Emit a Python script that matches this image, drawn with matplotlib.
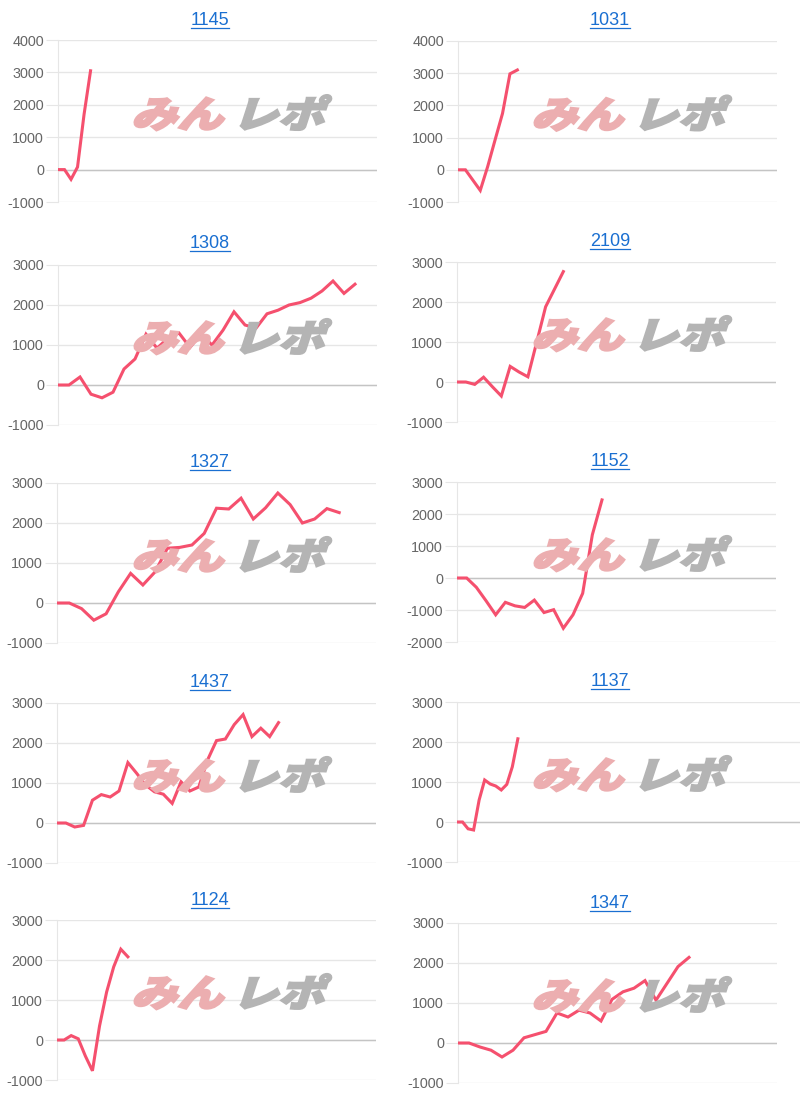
import matplotlib
matplotlib.use('Agg')
import matplotlib.pyplot as plt
from matplotlib.textpath import TextPath
from matplotlib.patches import PathPatch
from matplotlib.font_manager import FontProperties
from matplotlib.lines import Line2D
import matplotlib.transforms as mtransforms

# --- data ---
titles = ['1145', '1031', '1308', '2109', '1327', '1152', '1437', '1137', '1124', '1347']

v1145 = [0, 0, -300, 80, 1700, 3050]
v1031 = [0, 0, -320, -640, 100, 930, 1750, 2980, 3100]
v1308 = [0, 0, 200, -230, -320, -180, 400, 650, 1270, 920, 1170, 1300, 940, 1270,
         1000, 1370, 1830, 1500, 1420, 1780, 1870, 2000, 2060, 2170, 2350, 2600, 2290, 2520]
v2109 = [0, 0, -60, 120, -120, -350, 390, 250, 130, 1000, 1880, 2320, 2760]
v1327 = [0, 0, -140, -430, -270, 280, 740, 450, 780, 1370, 1390, 1450, 1740, 2370,
         2350, 2620, 2100, 2380, 2750, 2460, 2000, 2100, 2360, 2260]
v1152 = [0, 0, -290, -710, -1150, -760, -870, -920, -690, -1080, -990, -1570, -1150,
         -480, 1350, 2440]
v1437 = [0, 0, -100, -60, 570, 710, 650, 800, 1510, 1240, 950, 780, 720, 490, 1030,
         800, 900, 1580, 2060, 2100, 2460, 2710, 2160, 2370, 2160, 2510]
v1137 = [0, 0, -170, -200, 550, 1050, 950, 900, 800, 940, 1380, 2080]
v1124 = [0, 0, 110, 30, -400, -770, 350, 1200, 1830, 2270, 2080]
v1347 = [0, 0, -100, -180, -350, -180, 130, 210, 290, 750, 650, 820, 750, 550, 1090,
         1280, 1370, 1560, 1070, 1490, 1910, 2140]

series = [v1145, v1031, v1308, v2109, v1327, v1152, v1437, v1137, v1124, v1347]
n_slots = [50, 44, 30, 37, 27, 34, 37, 63, 46, 30]      # x labels per chart
y_min = [-1000, -1000, -1000, -1000, -1000, -2000, -1000, -1000, -1000, -1000]
y_max = [4000, 4000, 3000, 3000, 3000, 3000, 3000, 3000, 3000, 3000]

# --- layout in pixels (x0, x1, y_top, y_bottom, title baseline) ---
W, H = 800, 1098
boxes = [
    (58, 377, 40, 202, 25), (458, 777, 41, 202, 25),
    (58, 377, 265, 425, 248), (457, 776, 262, 422, 246),
    (57, 376, 483, 643, 467), (457, 776, 482, 642, 466),
    (57, 376, 703, 863, 687), (457, 800, 702, 862, 686),
    (57, 376, 920, 1080, 905), (458, 777, 923, 1083, 908),
]

LINE = '#f5506e'
GRID = '#e6e6e6'
ZERO = '#c4c4c4'
TICK = '#666666'
LINK = '#1a6fd1'

plt.rcParams['font.family'] = ['Liberation Sans', 'DejaVu Sans']
plt.rcParams['axes.unicode_minus'] = False

fig = plt.figure(figsize=(W / 100, H / 100), dpi=100)
logo_font = FontProperties(family=['Noto Sans CJK JP'], weight='black')

def add_logo(panel_x, box):
    x0, x1, yt, yb, _ = box
    base_y = yb - 0.46 * (yb - yt)
    for txt, dx, col in [('みん', 131, '#ecaeb0'), ('レポ', 232, '#b4b4b4')]:
        p = TextPath((0, 0), txt, size=1, prop=logo_font)
        tr = (mtransforms.Affine2D().scale(46, 37).skew_deg(18, 0)
              + mtransforms.Affine2D().translate(panel_x + dx, H - base_y))
        # solid layer under the line, translucent copy above to fade the line
        fig.add_artist(PathPatch(p, transform=tr, facecolor=col, edgecolor=col,
                                 lw=1.6, zorder=2.5))
        fig.add_artist(PathPatch(p, transform=tr, facecolor=col, edgecolor='none',
                                 alpha=0.4, zorder=5))

title_texts = []
for i, (vals, box) in enumerate(zip(series, boxes)):
    x0, x1, yt, yb, tb = box
    ax = fig.add_axes([x0 / W, 1 - yb / H, (x1 - x0) / W, (yb - yt) / H])
    ax.patch.set_alpha(0)
    ax.plot(range(len(vals)), vals, color=LINE, lw=2.2, solid_joinstyle='miter', zorder=3)
    ax.set_xlim(0, n_slots[i] - 1)
    ax.set_ylim(y_min[i], y_max[i])
    ticks = list(range(y_min[i], y_max[i] + 1, 1000))
    ax.set_yticks(ticks)
    ax.set_xticks([])
    ax.grid(axis='y', color=GRID, lw=1)
    ax.axhline(0, color=ZERO, lw=1, zorder=2)
    for s in ['top', 'right', 'bottom']:
        ax.spines[s].set_visible(False)
    ax.spines['left'].set_color(GRID)
    ax.tick_params(axis='y', length=9, color=GRID, pad=1, labelsize=10.4, labelcolor=TICK)
    ax.yaxis.get_major_ticks()[ticks.index(0)].tick1line.set_color(ZERO)
    ax.set_axisbelow(True)

    panel_x = 0 if i % 2 == 0 else 400
    add_logo(panel_x, box)
    t = fig.text((panel_x + 210) / W, 1 - tb / H, titles[i], ha='center', va='baseline',
                 fontsize=13, color=LINK)
    title_texts.append((t, tb))

# underline the link-style titles
fig.canvas.draw()
r = fig.canvas.get_renderer()
for t, tb in title_texts:
    bb = t.get_window_extent(r)
    yy = 1 - (tb + 2.5) / H
    fig.add_artist(Line2D([bb.x0 / W, bb.x1 / W], [yy, yy], color=LINK, lw=0.9,
                          transform=fig.transFigure))

fig.savefig('out.png', dpi=100)
